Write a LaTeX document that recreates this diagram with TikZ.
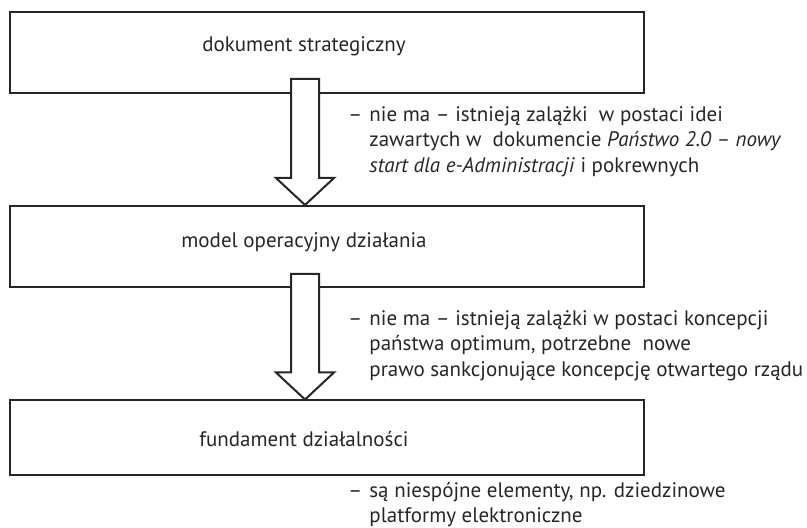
\documentclass[tikz,border=0pt]{standalone}
\usepackage{fontspec}
\setmainfont{PT Sans}
\usetikzlibrary{calc}

\newcommand{\notedash}{\llap{\makebox[10.5pt][l]{–}}}

\tikzset{
    box/.style={draw=black!85, line width=1pt, minimum width=317pt, inner sep=0pt},
    boxtext/.style={font=\fontsize{10.5}{12.5}\selectfont, text=black!85, anchor=base, inner sep=0pt},
    note/.style={font=\fontsize{10.5}{12.75}\selectfont, text=black!85, align=left, anchor=north west, inner sep=0pt},
    blockarrow/.style={draw=black!85, fill=white, line width=1pt, line join=miter,
        to path={($(\tikztostart)+(-7pt,0)$) -- ($(\tikztotarget)+(-7pt,13.5pt)$)
            -- ($(\tikztotarget)+(-14.5pt,13.5pt)$) -- (\tikztotarget)
            -- ($(\tikztotarget)+(14.5pt,13.5pt)$) -- ($(\tikztotarget)+(7pt,13.5pt)$)
            -- ($(\tikztostart)+(7pt,0)$) -- cycle}}
}

\begin{document}
\begin{tikzpicture}[x=0.5pt, y=-0.5pt]
    \useasboundingbox (0,0) rectangle (807,528);

    \node[box, minimum height=40.5pt] (strat) at (327,52.5) {};
    \node[box, minimum height=40.5pt] (oper) at (327,246.5) {};
    \node[box, minimum height=37pt] (fund) at (327,437.5) {};

    \coordinate (axis) at (305,0);

    \node[boxtext] (stratlbl) at (304,52) {dokument strategiczny};
    \node[boxtext] (operlbl) at (304,248) {model operacyjny działania};
    \node[boxtext] (fundlbl) at (304,446) {fundament działalności};

    \draw[blockarrow] ($(strat.south -| axis)+(0,7.5pt)$) to (oper.north -| axis);
    \draw[blockarrow] ($(oper.south -| axis)+(0,7pt)$) to (fund.north -| axis);

    % notes: first line hangs on the dash
    \node[note] (stratnote) at (369,103) {\strut\notedash nie ma – istnieją zalążki\ \ w postaci idei\\
        zawartych w\ \ dokumencie \textit{Państwo 2.0 – nowy}\\
        \textit{start dla e-Administracji} i pokrewnych};
    \node[note] (opernote) at (369,307) {\strut\notedash nie ma – istnieją zalążki w postaci koncepcji\\
        państwa optimum, potrzebne\ \ nowe\\
        prawo sankcjonujące koncepcję otwartego rządu};
    \node[note, font=\fontsize{10.5}{12.25}\selectfont] (fundnote) at (369,480) {\strut\notedash są niespójne elementy, np. dziedzinowe\\
        platformy elektroniczne};

\end{tikzpicture}
\end{document}
